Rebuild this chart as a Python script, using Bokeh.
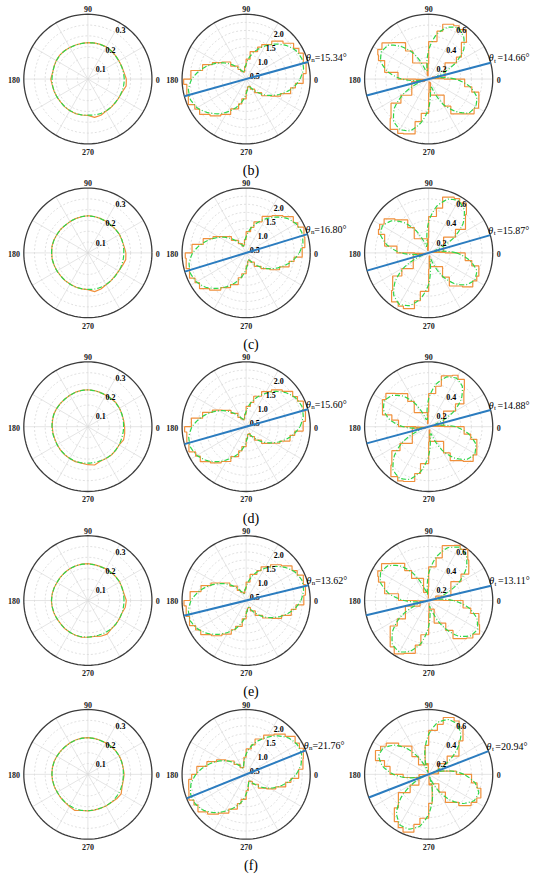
import numpy as np
from bokeh.plotting import figure
from bokeh.models import Range1d
from bokeh.embed import file_html
from bokeh.resources import INLINE
from bokeh.core.properties import value

# ---------------- data ----------------
angles = list(range(0, 360, 10))          # sample directions (deg)
panel_labels = ["(b)", "(c)", "(d)", "(e)", "(f)"]
theta_n = [15.34, 16.80, 15.60, 13.62, 21.76]
theta_t = [14.66, 15.87, 14.88, 13.11, 20.94]

left_rmax, mid_rmax, right_rmax = 0.3, 2.0, 0.6
left_ring_step, mid_ring_step, right_ring_step = 0.05, 0.25, 0.1
left_ticks = [0.1, 0.2, 0.3]
mid_ticks = [0.5, 1.0, 1.5, 2.0]
right_ticks = [0.2, 0.4, 0.6]
right_ticks_d = [0.2, 0.4]
spoke_angles = [0, 30, 60, 90, 120, 150, 180, 210, 240, 270, 300, 330]

# left column (nearly isotropic ring)
left_green_b = [0.170,0.169,0.168,0.167,0.168,0.170,0.171,0.170,0.169,0.168,0.167,0.167,0.168,0.170,0.171,0.170,0.168,0.167,
                0.168,0.168,0.167,0.166,0.166,0.167,0.168,0.169,0.168,0.167,0.168,0.170,0.170,0.169,0.168,0.168,0.169,0.170]
left_orange_b = [0.180,0.172,0.169,0.168,0.169,0.171,0.172,0.171,0.170,0.169,0.168,0.168,0.169,0.171,0.172,0.171,0.169,0.168,
                 0.174,0.169,0.168,0.167,0.166,0.168,0.169,0.170,0.169,0.168,0.180,0.178,0.171,0.170,0.169,0.169,0.172,0.182]
left_green_c = [0.168,0.169,0.170,0.170,0.169,0.168,0.168,0.169,0.170,0.171,0.170,0.168,0.167,0.166,0.167,0.168,0.169,0.170,
                0.170,0.169,0.168,0.167,0.166,0.166,0.167,0.168,0.168,0.169,0.170,0.170,0.169,0.168,0.167,0.167,0.168,0.168]
left_orange_c = [0.178,0.172,0.170,0.171,0.169,0.168,0.169,0.170,0.171,0.172,0.170,0.169,0.167,0.166,0.168,0.168,0.170,0.171,
                 0.169,0.170,0.168,0.167,0.166,0.167,0.166,0.168,0.169,0.170,0.182,0.178,0.170,0.168,0.166,0.167,0.172,0.180]
left_green_d = [0.167,0.168,0.169,0.170,0.170,0.169,0.168,0.168,0.169,0.170,0.170,0.169,0.168,0.167,0.167,0.168,0.169,0.169,
                0.168,0.167,0.166,0.166,0.167,0.168,0.169,0.170,0.170,0.169,0.168,0.168,0.169,0.170,0.169,0.168,0.167,0.167]
left_orange_d = [0.172,0.170,0.170,0.171,0.172,0.170,0.168,0.169,0.170,0.171,0.171,0.170,0.168,0.167,0.168,0.169,0.170,0.168,
                 0.167,0.166,0.165,0.166,0.168,0.169,0.170,0.172,0.171,0.176,0.180,0.170,0.170,0.171,0.170,0.169,0.178,0.175]
left_green_e = [0.169,0.169,0.170,0.171,0.170,0.169,0.168,0.167,0.168,0.169,0.170,0.170,0.169,0.168,0.167,0.167,0.168,0.169,
                0.170,0.169,0.168,0.167,0.167,0.168,0.169,0.170,0.170,0.169,0.168,0.168,0.169,0.170,0.170,0.169,0.169,0.169]
left_orange_e = [0.180,0.172,0.171,0.172,0.171,0.170,0.169,0.168,0.169,0.171,0.171,0.170,0.170,0.169,0.168,0.167,0.169,0.170,
                 0.171,0.170,0.169,0.168,0.167,0.169,0.170,0.171,0.172,0.170,0.169,0.176,0.180,0.171,0.171,0.170,0.170,0.178]
left_green_f = [0.166,0.167,0.168,0.169,0.169,0.168,0.167,0.167,0.168,0.169,0.169,0.168,0.167,0.166,0.166,0.167,0.168,0.168,
                0.168,0.167,0.166,0.165,0.166,0.167,0.168,0.169,0.169,0.168,0.167,0.167,0.168,0.169,0.169,0.168,0.167,0.166]
left_orange_f = [0.170,0.168,0.169,0.170,0.170,0.169,0.168,0.168,0.169,0.170,0.170,0.169,0.168,0.167,0.167,0.168,0.169,0.169,
                 0.169,0.168,0.167,0.166,0.167,0.168,0.172,0.178,0.170,0.169,0.168,0.168,0.169,0.170,0.176,0.180,0.170,0.168]

# middle column (two-lobed, theta_n)
mid_green_b = [1.68,1.82,1.85,1.78,1.62,1.41,1.18,0.95,0.72,0.46,0.27,0.22,0.31,0.51,0.75,0.99,1.24,1.48,
               1.70,1.83,1.85,1.77,1.60,1.40,1.17,0.94,0.70,0.45,0.26,0.22,0.32,0.52,0.76,1.00,1.25,1.50]
mid_orange_b = [1.78,1.90,1.90,1.90,1.72,1.53,1.23,1.05,0.72,0.52,0.27,0.20,0.34,0.52,0.82,1.02,1.30,1.52,
                1.95,1.88,1.92,1.85,1.70,1.48,1.26,0.98,0.78,0.46,0.25,0.24,0.36,0.55,0.80,1.05,1.32,1.56]
mid_green_c = [1.66,1.80,1.85,1.80,1.66,1.44,1.21,0.98,0.75,0.50,0.30,0.22,0.29,0.48,0.72,0.96,1.20,1.45,
               1.67,1.81,1.85,1.79,1.65,1.43,1.20,0.97,0.74,0.49,0.29,0.22,0.30,0.49,0.73,0.97,1.21,1.46]
mid_orange_c = [1.75,1.86,1.92,1.86,1.74,1.50,1.30,1.02,0.80,0.52,0.30,0.22,0.33,0.50,0.78,1.00,1.28,1.50,
                1.90,1.90,1.88,1.84,1.72,1.50,1.24,1.04,0.78,0.52,0.28,0.24,0.33,0.54,0.76,1.04,1.26,1.52]
mid_green_d = [1.68,1.81,1.85,1.78,1.63,1.42,1.18,0.96,0.72,0.47,0.28,0.22,0.31,0.50,0.74,0.98,1.23,1.47,
               1.69,1.82,1.85,1.77,1.62,1.41,1.17,0.95,0.71,0.46,0.27,0.22,0.32,0.51,0.75,0.99,1.24,1.48]
mid_orange_d = [1.78,1.88,1.90,1.85,1.70,1.48,1.25,1.00,0.76,0.50,0.28,0.20,0.33,0.54,0.78,1.02,1.30,1.52,
                1.92,1.88,1.90,1.82,1.68,1.46,1.24,0.98,0.76,0.48,0.26,0.23,0.35,0.54,0.80,1.02,1.30,1.54]
mid_green_e = [1.71,1.82,1.85,1.76,1.59,1.37,1.14,0.92,0.67,0.42,0.25,0.22,0.34,0.55,0.79,1.03,1.28,1.52,
               1.72,1.83,1.85,1.75,1.58,1.36,1.13,0.91,0.66,0.41,0.24,0.22,0.35,0.56,0.80,1.04,1.29,1.53]
mid_orange_e = [1.80,1.88,1.90,1.84,1.66,1.44,1.20,0.98,0.70,0.45,0.25,0.21,0.36,0.58,0.84,1.08,1.34,1.58,
                1.94,1.90,1.88,1.82,1.64,1.42,1.20,0.96,0.70,0.44,0.24,0.23,0.37,0.60,0.84,1.10,1.34,1.58]
mid_green_f = [1.56,1.74,1.84,1.84,1.74,1.55,1.32,1.10,0.88,0.62,0.38,0.22,0.23,0.37,0.60,0.84,1.08,1.33,
               1.57,1.75,1.84,1.83,1.73,1.54,1.31,1.09,0.87,0.61,0.37,0.22,0.24,0.38,0.61,0.85,1.09,1.34]
mid_orange_f = [1.64,1.80,1.90,1.92,1.82,1.62,1.40,1.16,0.92,0.66,0.40,0.22,0.24,0.40,0.64,0.90,1.14,1.40,
                1.70,1.82,1.90,1.88,1.80,1.60,1.38,1.14,0.92,0.64,0.38,0.22,0.25,0.40,0.66,0.90,1.14,1.42]

# right column (four petals, theta_t)
right_green_b = [0.25,0.06,0.09,0.28,0.43,0.51,0.55,0.51,0.42,0.27,0.08,0.08,0.27,0.39,0.49,0.51,0.48,0.39,
                 0.25,0.07,0.09,0.27,0.42,0.51,0.54,0.51,0.41,0.27,0.08,0.08,0.27,0.39,0.49,0.51,0.48,0.39]
right_orange_b = [0.27,0.02,0.05,0.30,0.40,0.55,0.57,0.54,0.45,0.25,0.03,0.04,0.30,0.44,0.52,0.55,0.50,0.36,
                  0.22,0.02,0.06,0.30,0.46,0.56,0.58,0.54,0.40,0.24,0.02,0.05,0.29,0.42,0.50,0.54,0.50,0.41]
right_green_c = [0.26,0.07,0.06,0.26,0.42,0.52,0.56,0.53,0.44,0.29,0.08,0.06,0.24,0.37,0.46,0.50,0.48,0.39,
                 0.26,0.07,0.06,0.26,0.41,0.51,0.55,0.52,0.43,0.29,0.08,0.06,0.24,0.37,0.46,0.50,0.48,0.39]
right_orange_c = [0.28,0.03,0.03,0.29,0.45,0.55,0.58,0.55,0.42,0.26,0.02,0.03,0.27,0.40,0.49,0.53,0.50,0.36,
                  0.24,0.02,0.04,0.29,0.44,0.54,0.57,0.55,0.45,0.27,0.03,0.03,0.26,0.40,0.49,0.52,0.50,0.41]
right_green_d = [0.25,0.06,0.07,0.26,0.40,0.49,0.52,0.49,0.40,0.26,0.07,0.07,0.24,0.37,0.45,0.48,0.45,0.37,
                 0.24,0.06,0.08,0.28,0.42,0.52,0.55,0.52,0.42,0.27,0.07,0.07,0.25,0.38,0.47,0.50,0.47,0.38]
right_orange_d = [0.27,0.02,0.03,0.29,0.43,0.52,0.55,0.50,0.38,0.24,0.03,0.03,0.27,0.40,0.48,0.50,0.46,0.35,
                  0.22,0.02,0.04,0.31,0.45,0.55,0.58,0.54,0.44,0.25,0.03,0.03,0.28,0.41,0.50,0.52,0.48,0.40]
right_green_e = [0.23,0.05,0.14,0.32,0.46,0.55,0.57,0.52,0.41,0.25,0.05,0.12,0.29,0.42,0.50,0.52,0.48,0.38,
                 0.23,0.05,0.13,0.31,0.44,0.53,0.55,0.50,0.40,0.24,0.05,0.13,0.29,0.43,0.51,0.53,0.48,0.38]
right_orange_e = [0.25,0.02,0.12,0.35,0.49,0.57,0.59,0.54,0.40,0.23,0.02,0.14,0.32,0.45,0.53,0.55,0.50,0.36,
                  0.21,0.02,0.15,0.34,0.47,0.56,0.57,0.52,0.42,0.22,0.02,0.15,0.32,0.46,0.54,0.55,0.50,0.40]
right_green_f = [0.33,0.19,0.02,0.17,0.34,0.47,0.54,0.54,0.49,0.37,0.21,0.02,0.16,0.31,0.42,0.49,0.50,0.44,
                 0.33,0.19,0.02,0.17,0.34,0.47,0.54,0.54,0.49,0.37,0.21,0.02,0.16,0.31,0.42,0.49,0.50,0.44]
right_orange_f = [0.35,0.17,0.01,0.20,0.37,0.50,0.57,0.56,0.47,0.35,0.19,0.01,0.19,0.34,0.45,0.52,0.53,0.42,
                  0.31,0.17,0.01,0.20,0.37,0.50,0.57,0.57,0.47,0.35,0.19,0.01,0.19,0.34,0.45,0.52,0.52,0.46]

left_green = [left_green_b, left_green_c, left_green_d, left_green_e, left_green_f]
left_orange = [left_orange_b, left_orange_c, left_orange_d, left_orange_e, left_orange_f]
mid_green = [mid_green_b, mid_green_c, mid_green_d, mid_green_e, mid_green_f]
mid_orange = [mid_orange_b, mid_orange_c, mid_orange_d, mid_orange_e, mid_orange_f]
right_green = [right_green_b, right_green_c, right_green_d, right_green_e, right_green_f]
right_orange = [right_orange_b, right_orange_c, right_orange_d, right_orange_e, right_orange_f]

# ---------------- layout / style ----------------
W, H = 534, 874                      # canvas (px)
REF_W, REF_H = 550, 890              # layout units
col_cx = [90, 253, 441]
row_cy = [80, 257, 434, 611, 788]
R = 66
FONT = value("Liberation Serif")
ORANGE = "#f0903c"
GREEN = "#2fd64a"
BLUE = "#2b7cbf"

p = figure(width=W, height=H, x_range=Range1d(0, REF_W), y_range=Range1d(REF_H, 0),
           output_backend="svg", toolbar_location=None, min_border=0,
           x_axis_type=None, y_axis_type=None, outline_line_color=None,
           background_fill_color="white", border_fill_color="white")
p.xgrid.visible = False
p.ygrid.visible = False

circ = np.radians(np.arange(0, 361, 3))


def to_xy(cx, cy, r, th, rmax):
    th = np.radians(np.asarray(th, dtype=float))
    d = np.asarray(r, dtype=float) / rmax * R
    return cx + d * np.cos(th), cy - d * np.sin(th)


def polar_line(r, th, n=6):
    """polar-space line segments between the samples (closed)."""
    rr, tt = [], []
    m = len(r)
    for i in range(m):
        r0, r1 = r[i], r[(i + 1) % m]
        t0 = th[i]
        t1 = th[i + 1] if i + 1 < m else th[0] + 360
        for k in range(n):
            f = k / n
            rr.append(r0 + (r1 - r0) * f)
            tt.append(t0 + (t1 - t0) * f)
    rr.append(r[0]); tt.append(th[0] + 360)
    return rr, tt


def stair(xs, ys):
    """step-mid staircase through the samples (closed)."""
    ox, oy = [xs[0]], [ys[0]]
    m = len(xs)
    for i in range(m):
        j = (i + 1) % m
        x0, y0, x1, y1 = xs[i], ys[i], xs[j], ys[j]
        if abs(x1 - x0) >= abs(y1 - y0):
            xm = (x0 + x1) / 2
            ox += [xm, xm, x1]; oy += [y0, y1, y1]
        else:
            ym = (y0 + y1) / 2
            ox += [x0, x1, x1]; oy += [ym, ym, y1]
    return ox, oy


def frame(cx, cy, rmax, step):
    rings = np.arange(step, rmax - 1e-9, step) / rmax * R
    p.multi_line(xs=[list(cx + d * np.cos(circ)) for d in rings],
                 ys=[list(cy - d * np.sin(circ)) for d in rings],
                 line_color="#d2d2d2", line_width=0.7, line_dash="2 2")
    xs, ys = [], []
    for a in spoke_angles:
        ex, ey = to_xy(cx, cy, [rmax], [a], rmax)
        xs.append([cx, ex[0]]); ys.append([cy, ey[0]])
    p.multi_line(xs=xs, ys=ys, line_color="#dadada", line_width=0.7)
    p.line(list(cx + R * np.cos(circ)), list(cy - R * np.sin(circ)), line_color="#3c3c3c", line_width=1.3)
    lab = dict(text_font=FONT, text_font_style="bold", text_font_size="8px", text_color="#222222")
    p.text(x=[cx], y=[cy - R - 5], text=["90"], text_align="center", text_baseline="middle", **lab)
    p.text(x=[cx], y=[cy + R + 8], text=["270"], text_align="center", text_baseline="middle", **lab)
    p.text(x=[cx - R - 4], y=[cy + 1], text=["180"], text_align="right", text_baseline="middle", **lab)
    p.text(x=[cx + R + 4], y=[cy + 1], text=["0"], text_align="left", text_baseline="middle", **lab)


def rlabels(cx, cy, ticks, rmax, ang, dx, dy):
    d = np.asarray(ticks) / rmax * R
    a = np.radians(ang)
    xs = list(cx + d * np.cos(a) + dx)
    ys = list(cy - d * np.sin(a) + dy)
    p.text(x=xs, y=ys, text=[f"{t:.1f}" for t in ticks], text_font=FONT, text_font_style="bold",
           text_font_size="8px", text_color="black", text_align="center", text_baseline="middle")


def series(cx, cy, green, orange, rmax, stepped=True):
    ox, oy = to_xy(cx, cy, orange, angles, rmax)
    if stepped:
        ox, oy = stair(list(ox), list(oy))
    else:
        ox = list(ox) + [ox[0]]; oy = list(oy) + [oy[0]]
    p.line(ox, oy, line_color=ORANGE, line_width=1.2)
    gr, gt = polar_line(green, angles)
    gx, gy = to_xy(cx, cy, gr, gt, rmax)
    p.line(list(gx), list(gy), line_color=GREEN, line_width=1.2, line_dash="5 2 1 2")


def orient(cx, cy, ang, sub):
    a = np.radians(ang)
    ex, ey = cx + R * np.cos(a), cy - R * np.sin(a)
    p.line([cx - R * np.cos(a), ex], [cy + R * np.sin(a), ey], line_color=BLUE, line_width=2)
    p.text(x=[ex - 2], y=[ey - 5], text=["θ"], text_font=FONT, text_font_style="italic",
           text_font_size="10px", text_align="left", text_baseline="middle", text_color="black")
    p.text(x=[ex + 3.5], y=[ey - 2], text=[sub], text_font=FONT, text_font_size="7px",
           text_align="left", text_baseline="middle", text_color="black")
    p.text(x=[ex + 7], y=[ey - 5], text=[f"={ang:.2f}°"], text_font=FONT,
           text_font_size="10px", text_align="left", text_baseline="middle", text_color="black")


for i in range(5):
    cy = row_cy[i]
    cx = col_cx[0]
    frame(cx, cy, left_rmax, left_ring_step)
    series(cx, cy, left_green[i], left_orange[i], left_rmax, stepped=False)
    rlabels(cx, cy, left_ticks, left_rmax, 62.5, 3, 9)

    cx = col_cx[1]
    frame(cx, cy, mid_rmax, mid_ring_step)
    series(cx, cy, mid_green[i], mid_orange[i], mid_rmax)
    rlabels(cx, cy, mid_ticks, mid_rmax, 60, 0.5, 11)
    orient(cx, cy, theta_n[i], "n")

    cx = col_cx[2]
    frame(cx, cy, right_rmax, right_ring_step)
    series(cx, cy, right_green[i], right_orange[i], right_rmax)
    rlabels(cx, cy, right_ticks_d if i == 2 else right_ticks, right_rmax, 62.5, 3, 9)
    orient(cx, cy, theta_t[i], "t")

    p.text(x=[258], y=[cy + R + 27], text=[panel_labels[i]], text_font=FONT,
           text_font_size="14px", text_align="center", text_baseline="middle", text_color="black")

open("out.html", "w").write(file_html(p, INLINE))
